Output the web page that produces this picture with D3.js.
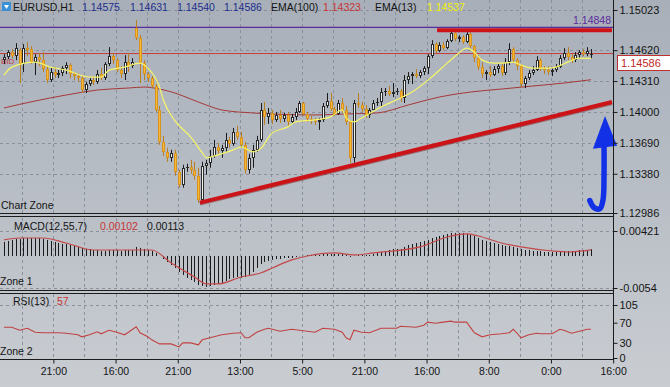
<!DOCTYPE html>
<html><head><meta charset="utf-8">
<script src="https://cdn.jsdelivr.net/npm/d3@7"></script>
<style>body{margin:0;overflow:hidden;background:#b8bdc4} svg{display:block} text{font-family:"Liberation Sans",Arial,sans-serif}</style>
</head><body><svg id="c" width="670" height="387"></svg>
<script>
// ---------------- DATA ----------------
const symbol = "EURUSD,H1";
const open = [1.1452,1.1455,1.1460,1.1456,1.1462,1.1448,1.1464,1.1463,1.1450,1.1455,
1.1452,1.1443,1.1432,1.1440,1.1437,1.1439,1.1444,1.1447,1.1438,1.1436,
1.1434,1.1422,1.1428,1.1432,1.1430,1.1438,1.1434,1.1448,1.1456,1.1452,
1.1442,1.1438,1.1450,1.1446,1.1484,1.1474,1.1449,1.1438,1.1434,1.1426,
1.1402,1.1370,1.1360,1.1354,1.1359,1.1340,1.1327,1.1344,1.1345,1.1342,
1.1336,1.1312,1.1346,1.1349,1.1356,1.1365,1.1361,1.1364,1.1372,1.1368,
1.1380,1.1375,1.1367,1.1342,1.1354,1.1362,1.1372,1.1402,1.1395,1.1399,
1.1392,1.1397,1.1393,1.1397,1.1390,1.1395,1.1400,1.1409,1.1398,1.1393,
1.1391,1.1390,1.1392,1.1406,1.1411,1.1403,1.1398,1.1409,1.1402,1.1390,
1.1354,1.1409,1.1407,1.1403,1.1397,1.1402,1.1409,1.1410,1.1420,1.1421,
1.1418,1.1420,1.1421,1.1414,1.1432,1.1436,1.1438,1.1436,1.1440,1.1444,
1.1456,1.1468,1.1461,1.1467,1.1464,1.1471,1.1479,1.1473,1.1475,1.1470,
1.1478,1.1466,1.1454,1.1445,1.1438,1.1440,1.1437,1.1443,1.1446,1.1439,
1.1450,1.1463,1.1452,1.1446,1.1428,1.1434,1.1439,1.1442,1.1452,1.1444,
1.1442,1.1440,1.1442,1.1445,1.1454,1.1459,1.1455,1.1452,1.1457,1.1460,
1.1458,1.14575];
const high = [1.1458,1.1462,1.1463,1.1469,1.1464,1.1468,1.1470,1.1466,1.1458,1.1459,
1.1460,1.1446,1.1444,1.1445,1.1442,1.1446,1.1450,1.1449,1.1440,1.1439,
1.1436,1.1430,1.1434,1.1435,1.1442,1.1444,1.1450,1.1465,1.1459,1.1454,
1.1446,1.1457,1.1459,1.1454,1.1492,1.1477,1.1452,1.1440,1.1436,1.1428,
1.1406,1.1376,1.1364,1.1362,1.1362,1.1342,1.1347,1.1348,1.1352,1.1350,
1.1344,1.1350,1.1352,1.1362,1.1372,1.1369,1.1367,1.1379,1.1375,1.1384,
1.1386,1.1380,1.1370,1.1358,1.1367,1.1376,1.1409,1.1410,1.1404,1.1402,
1.1400,1.1402,1.1399,1.1400,1.1398,1.1404,1.1411,1.1410,1.1400,1.1396,
1.1394,1.1394,1.1409,1.1419,1.1419,1.1405,1.1412,1.1414,1.1406,1.1392,
1.1412,1.1419,1.1410,1.1407,1.1404,1.1412,1.1414,1.1424,1.1424,1.1426,
1.1429,1.1424,1.1423,1.1437,1.1440,1.1440,1.1443,1.1442,1.1446,1.1458,
1.1472,1.1470,1.1470,1.1470,1.1473,1.1482,1.1480,1.1477,1.1477,1.1481,
1.1480,1.1467,1.1457,1.1450,1.1442,1.1446,1.1446,1.1448,1.1449,1.1454,
1.1469,1.1465,1.1454,1.1448,1.1436,1.1442,1.1446,1.1456,1.1454,1.1446,
1.1446,1.1444,1.1448,1.1457,1.1464,1.1465,1.1458,1.1460,1.1462,1.1463,
1.1465,1.14631];
const low = [1.1448,1.1453,1.1454,1.1452,1.1429,1.1440,1.1456,1.1448,1.1437,1.1446,
1.1440,1.1429,1.1430,1.1434,1.1434,1.1436,1.1438,1.1434,1.1432,1.1430,
1.1419,1.1419,1.1426,1.1427,1.1428,1.1432,1.1432,1.1446,1.1448,1.1440,
1.1434,1.1432,1.1440,1.1444,1.1472,1.1429,1.1432,1.1430,1.1424,1.1400,
1.1367,1.1356,1.1350,1.1350,1.1336,1.1324,1.1324,1.1340,1.1338,1.1332,
1.1309,1.1310,1.1337,1.1344,1.1354,1.1358,1.1354,1.1360,1.1364,1.1366,
1.1372,1.1364,1.1338,1.1338,1.1344,1.1360,1.1370,1.1387,1.1388,1.1388,
1.1390,1.1389,1.1390,1.1386,1.1388,1.1392,1.1399,1.1396,1.1390,1.1388,
1.1387,1.1382,1.1390,1.1404,1.1401,1.1396,1.1397,1.1400,1.1387,1.1349,
1.1349,1.1404,1.1400,1.1394,1.1394,1.1402,1.1406,1.1406,1.1416,1.1416,
1.1415,1.1417,1.1410,1.1409,1.1428,1.1428,1.1434,1.1434,1.1437,1.1438,
1.1454,1.1459,1.1460,1.1462,1.1463,1.1470,1.1471,1.1470,1.1468,1.1469,
1.1464,1.1450,1.1442,1.1434,1.1432,1.1435,1.1436,1.1439,1.1436,1.1437,
1.1447,1.1449,1.1442,1.1425,1.1424,1.1432,1.1437,1.1441,1.1441,1.1438,
1.1437,1.1436,1.1440,1.1444,1.1452,1.1452,1.1449,1.1450,1.1454,1.1456,
1.1456,1.14540];
const close = [1.1455,1.1460,1.1456,1.1464,1.1448,1.1464,1.1462,1.1450,1.1455,1.1452,
1.1443,1.1432,1.1440,1.1437,1.1439,1.1444,1.1447,1.1438,1.1436,1.1434,
1.1422,1.1428,1.1432,1.1430,1.1438,1.1434,1.1448,1.1456,1.1452,1.1442,
1.1438,1.1450,1.1446,1.1450,1.1474,1.1449,1.1438,1.1434,1.1426,1.1402,
1.1370,1.1360,1.1354,1.1359,1.1340,1.1327,1.1344,1.1345,1.1342,1.1336,
1.1312,1.1346,1.1349,1.1356,1.1365,1.1361,1.1364,1.1372,1.1368,1.1380,
1.1375,1.1367,1.1342,1.1354,1.1362,1.1372,1.1402,1.1395,1.1399,1.1392,
1.1397,1.1393,1.1397,1.1390,1.1395,1.1400,1.1409,1.1398,1.1393,1.1391,
1.1390,1.1392,1.1406,1.1411,1.1403,1.1398,1.1409,1.1402,1.1390,1.1354,
1.1409,1.1407,1.1403,1.1397,1.1402,1.1409,1.1410,1.1420,1.1421,1.1418,
1.1420,1.1421,1.1414,1.1432,1.1436,1.1438,1.1436,1.1440,1.1444,1.1456,
1.1468,1.1461,1.1467,1.1464,1.1471,1.1479,1.1473,1.1475,1.1470,1.1478,
1.1466,1.1454,1.1445,1.1438,1.1440,1.1437,1.1443,1.1446,1.1439,1.1450,
1.1463,1.1452,1.1446,1.1428,1.1434,1.1439,1.1442,1.1452,1.1444,1.1442,
1.1440,1.1442,1.1445,1.1454,1.1459,1.1455,1.1452,1.1457,1.1460,1.1458,
1.1461,1.14586];

const ema100Idx = [0,8,16,24,32,36,40,44,48,52,56,64,72,80,88,96,104,112,120,128,136,144,151];
const ema100Val = [1.1404,1.1411,1.1417,1.1422,1.1424,1.1425,1.1423,1.1419,1.1413,1.1407,1.1402,1.1399,1.13975,1.1397,1.1398,1.1399,1.1407,1.1415,1.1420,1.1423,1.1426,1.1429,1.14323];
const ema13Idx = [0,2,8,12,16,22,25,27,31,35,37,40,41,44,48,51,52,55,59,61,64,66,69,73,75,80,84,87,88,90,92,97,102,105,110,114,117,119,121,123,126,128,131,133,136,140,142,145,148,151];
const ema13Val = [1.1437,1.1445,1.1450,1.1445,1.1442,1.1435,1.1435,1.1442,1.1445,1.1449,1.1444,1.1425,1.1412,1.1391,1.1375,1.1359,1.1354,1.1357,1.1362,1.1365,1.1360,1.1363,1.1379,1.1385,1.1390,1.1392,1.1395,1.1402,1.1394,1.1390,1.1394,1.1405,1.1414,1.1420,1.1435,1.1449,1.1459,1.1464,1.1460,1.1452,1.1449,1.1449,1.1450,1.1447,1.1444,1.1444,1.1445,1.1450,1.1454,1.14537];

const macdHist = [0.00236,0.00253,0.00270,0.00287,0.00287,0.00303,0.00303,0.00303,0.00303,0.00303,
0.00287,0.00270,0.00253,0.00236,0.00219,0.00202,0.00202,0.00185,0.00169,0.00152,
0.00135,0.00118,0.00118,0.00101,0.00101,0.00084,0.00084,0.00101,0.00101,0.00101,
0.00084,0.00101,0.00101,0.00101,0.00152,0.00135,0.00118,0.00101,0.00084,0.00051,
0.00000,-0.00051,-0.00101,-0.00152,-0.00202,-0.00270,-0.00320,-0.00371,-0.00405,-0.00438,
-0.00489,-0.00506,-0.00523,-0.00506,-0.00489,-0.00472,-0.00455,-0.00422,-0.00388,-0.00371,
-0.00354,-0.00371,-0.00354,-0.00320,-0.00270,-0.00202,-0.00135,-0.00101,-0.00084,-0.00067,
-0.00051,-0.00051,-0.00034,-0.00034,-0.00034,-0.00017,-0.00005,0.00003,0.00017,0.00017,
0.00017,0.00017,0.00034,0.00034,0.00034,0.00034,0.00034,0.00034,0.00017,-0.00017,
0.00005,0.00017,0.00017,0.00017,0.00017,0.00034,0.00051,0.00067,0.00084,0.00101,
0.00118,0.00118,0.00118,0.00152,0.00185,0.00202,0.00219,0.00236,0.00253,0.00270,
0.00303,0.00320,0.00337,0.00354,0.00371,0.00388,0.00388,0.00388,0.00388,0.00371,
0.00354,0.00337,0.00303,0.00270,0.00253,0.00236,0.00219,0.00202,0.00185,0.00169,
0.00169,0.00152,0.00135,0.00118,0.00101,0.00101,0.00084,0.00084,0.00084,0.00067,
0.00067,0.00067,0.00067,0.00067,0.00084,0.00084,0.00084,0.00084,0.00101,0.00101,
0.00101,0.00113];
const macdSigIdx = [0,4,10,16,23,33,38,43,49,52,55,61,66,69,74,78,85,90,95,107,114,119,122,128,133,141,145,151];
const macdSigVal = [0.00270,0.00303,0.00303,0.00219,0.00101,0.00101,0.00101,-0.00118,-0.00354,-0.00472,-0.00472,-0.00354,-0.00287,-0.00202,-0.00067,0,0.00051,0.00017,0.00051,0.00152,0.00320,0.00371,0.00337,0.00219,0.00152,0.00084,0.00067,0.00102];

const rsiIdx = [0,2,4,6,8,10,14,16,19,20,22,24,25,27,29,31,32,34,35,37,38,40,43,45,46,48,50,51,53,56,59,61,62,63,65,67,68,71,74,76,80,82,85,87,88,89,90,92,94,97,101,102,106,108,109,111,113,115,116,119,121,123,125,128,130,131,132,133,135,137,138,141,143,144,146,148,150,151];
const rsiVal = [61,61,55,59,51,50,50,49,46,42,46,52,48,55,51,46,51,62,50,42,36,28,28,22,30,30,26,36,40,46,49,50,40,40,51,57,59,53,57,55,51,59,57,51,40,36,55,51,50,59,59,63,61,65,71,69,71,73,71,71,50,42,46,48,50,57,49,40,46,49,48,48,57,55,49,53,57,57];

const priceTicks = [1.15023,1.14620,1.14310,1.14000,1.13690,1.13380,1.12986];
const macdTicks = [0.00421,-0.0054];
const macdTickLabels = ["0.00421","-0.0054"];
const rsiTicks = [105,70,30,0];
const timeTickIdx = [12.7,28.7,44.7,60.7,76.7,92.7,108.7,124.7,140.7,156.7];
const timeLabels = ["21:00","16:00","21:00","13:00","5:00","21:00","16:00","8:00","0:00","16:00"];
const levelLine = 1.14848;      // purple horizontal line
const resistance = {from:111.4, to:156.4, price:1.1482};
const trend = [[50.4,1.1309],[156.4,1.1410]];
const arrowShaft = [[150.7,1.1311],[151.8,1.1304],[153.3,1.1303],[154.1,1.1312],[154.35,1.1337],[154.35,1.1366]];
const arrowHead = [[154.6,1.1396],[151.5,1.1363],[157.7,1.1366]];

// ---------------- LAYOUT ----------------
const W=670,H=387, RX=613;
const svg=d3.select('#c');
const defs=svg.append('defs');
const gr=defs.append('linearGradient').attr('id','bg').attr('x1',0).attr('y1',0).attr('x2',0).attr('y2',1);
gr.append('stop').attr('offset','0%').attr('stop-color','#a8afb9');
gr.append('stop').attr('offset','100%').attr('stop-color','#c9cdd2');
defs.append('clipPath').attr('id','cm').append('rect').attr('x',0).attr('y',0).attr('width',RX).attr('height',213);
svg.append('rect').attr('width',W).attr('height',H).attr('fill','url(#bg)');

const N=close.length;
const x=d3.scaleLinear().domain([0,N-1]).range([4,591]);
const yP=d3.scaleLinear().domain([1.12986,1.15023]).range([213,10]);
const yM=d3.scaleLinear().domain([-0.0054,0.00421]).range([288,231]);
const yR=d3.scaleLinear().domain([0,105]).range([358,305]);

// grid
const gridIdx=[]; timeTickIdx.forEach(t=>{[t-8,t].forEach(v=>{if(v<N) gridIdx.push(v);});});
const grid=svg.append('g').attr('stroke','#8a919b').attr('stroke-dasharray','3,3').attr('stroke-width',1).attr('fill','none');
[[0,213],[218,288],[294,358]].forEach(([a,b])=>{
  grid.selectAll(null).data(gridIdx).join('line')
   .attr('x1',d=>Math.round(x(d))+0.5).attr('x2',d=>Math.round(x(d))+0.5).attr('y1',a).attr('y2',b);
});
grid.selectAll(null).data(priceTicks.slice(0,-1)).join('line')
  .attr('x1',0).attr('x2',RX).attr('y1',d=>Math.round(yP(d))+0.5).attr('y2',d=>Math.round(yP(d))+0.5);
grid.selectAll(null).data(macdTicks).join('line')
  .attr('x1',0).attr('x2',RX).attr('y1',d=>Math.round(yM(d))+0.5).attr('y2',d=>Math.round(yM(d))+0.5);
grid.selectAll(null).data([105]).join('line')
  .attr('x1',0).attr('x2',RX).attr('y1',d=>Math.round(yR(d))+0.5).attr('y2',d=>Math.round(yR(d))+0.5);

// main panel
const main=svg.append('g').attr('clip-path','url(#cm)');
main.append('line').attr('x1',0).attr('x2',RX).attr('y1',yP(levelLine)).attr('y2',yP(levelLine)).attr('stroke','#5a2d9c').attr('stroke-width',1.2);
main.append('line').attr('x1',0).attr('x2',RX).attr('y1',yP(close[N-1])).attr('y2',yP(close[N-1])).attr('stroke','#c83c3c').attr('stroke-width',1);
main.append('text').attr('x',1).attr('y',yP(close[N-1])+10).attr('font-size',8).attr('fill','#c43a3a').text('BID');

const ema100Line=d3.line().x((d,i)=>x(ema100Idx[i])).y(d=>yP(d)).curve(d3.curveMonotoneX);
main.append('path').attr('d',ema100Line(ema100Val)).attr('fill','none').attr('stroke','#a63838').attr('stroke-width',1);

const cg=main.append('g');
cg.selectAll('g').data(d3.range(N)).join('g').each(function(i){
  const s=d3.select(this);
  const xc=Math.round(x(i));
  const up=close[i]>=open[i];
  const yt=Math.round(yP(Math.max(open[i],close[i]))), yb=Math.round(yP(Math.min(open[i],close[i])));
  const h=Math.max(1,yb-yt);
  s.append('line').attr('x1',xc+0.5).attr('x2',xc+0.5).attr('y1',yP(high[i])).attr('y2',yP(low[i]))
    .attr('stroke',up?'#1a1a1a':'#b97e1e').attr('stroke-width',1);
  s.append('rect').attr('x',xc-1).attr('y',yt).attr('width',3).attr('height',h).attr('fill',up?'#2a2a2a':'#d8931f');
  if(h>2) s.append('rect').attr('x',xc).attr('y',yt+1).attr('width',1).attr('height',h-2).attr('fill',up?'#f2f2f2':'#f8b836');
});

const ema13Line=d3.line().x((d,i)=>x(ema13Idx[i])).y(d=>yP(d)).curve(d3.curveMonotoneX);
main.append('path').attr('d',ema13Line(ema13Val)).attr('fill','none').attr('stroke','#f6f668').attr('stroke-width',1.2);

// annotations
const ann=svg.append('g');
ann.append('line').attr('x1',x(trend[0][0])).attr('y1',yP(trend[0][1])+1).attr('x2',x(trend[1][0])).attr('y2',yP(trend[1][1])+1)
  .attr('stroke','#6e1212').attr('stroke-opacity',0.45).attr('stroke-width',4);
ann.append('line').attr('x1',x(trend[0][0])).attr('y1',yP(trend[0][1])).attr('x2',x(trend[1][0])).attr('y2',yP(trend[1][1]))
  .attr('stroke','#cc1418').attr('stroke-width',4);
ann.append('line').attr('x1',x(resistance.from)).attr('x2',x(resistance.to)).attr('y1',yP(resistance.price)).attr('y2',yP(resistance.price))
  .attr('stroke','#cc1418').attr('stroke-width',4);
const shaft=d3.line().x(d=>x(d[0])).y(d=>yP(d[1])).curve(d3.curveCatmullRom);
ann.append('path').attr('d',shaft(arrowShaft)).attr('fill','none').attr('stroke','#1230e6').attr('stroke-width',5.5).attr('stroke-linecap','round');
ann.append('path').attr('d','M'+arrowHead.map(d=>x(d[0])+','+yP(d[1])).join('L')+'Z').attr('fill','#1230e6');

// MACD
const mg=svg.append('g');
mg.selectAll('line').data(macdHist).join('line')
  .attr('x1',(d,i)=>Math.round(x(i))+0.5).attr('x2',(d,i)=>Math.round(x(i))+0.5)
  .attr('y1',yM(0)).attr('y2',d=>yM(d)).attr('stroke','#1a1a1a').attr('stroke-width',1);
const sigLine=d3.line().x((d,i)=>x(macdSigIdx[i])).y(d=>yM(d)).curve(d3.curveMonotoneX);
mg.append('path').attr('d',sigLine(macdSigVal)).attr('fill','none').attr('stroke','#c44848').attr('stroke-width',1.2);

// RSI
const rsiLine=d3.line().x((d,i)=>x(rsiIdx[i])).y(d=>yR(d));
svg.append('path').attr('d',rsiLine(rsiVal)).attr('fill','none').attr('stroke','#c04242').attr('stroke-width',1.1);

// borders
const bd=svg.append('g').attr('stroke','#1c1c1c').attr('stroke-width',1);
[213.5,216.5,290.5,293.5,359.5].forEach(y=>bd.append('line').attr('x1',0).attr('x2',RX+0.5).attr('y1',y).attr('y2',y));
bd.append('line').attr('x1',RX+0.5).attr('x2',RX+0.5).attr('y1',0).attr('y2',360);

// right axes
function rightAxis(scale,vals,fmt){
  const a=svg.append('g').attr('transform',`translate(${RX+0.5},0)`)
    .call(d3.axisRight(scale).tickValues(vals).tickSize(4).tickPadding(2).tickFormat(fmt));
  a.select('.domain').remove();
  a.selectAll('line').attr('stroke','#1c1c1c');
  a.selectAll('text').attr('font-size',11).attr('fill','#141414').attr('font-family','"Liberation Sans",Arial,sans-serif');
  return a;
}
rightAxis(yP,priceTicks,d3.format('.5f'));
rightAxis(yM,macdTicks,(d,i)=>macdTickLabels[i]);
rightAxis(yR,rsiTicks,d=>d);

// time axis
const ta=svg.append('g').attr('transform','translate(0,359.5)')
  .call(d3.axisBottom(x).tickValues(timeTickIdx).tickSize(4).tickPadding(4).tickFormat((d,i)=>timeLabels[i]));
ta.select('.domain').remove();
ta.selectAll('line').attr('stroke','#1c1c1c');
ta.selectAll('text').attr('font-size',10.5).attr('fill','#141414').attr('font-family','"Liberation Sans",Arial,sans-serif');

// price labels at right
const f5=d3.format('.5f');
svg.append('rect').attr('x',617.5).attr('y',55.5).attr('width',53).attr('height',15).attr('fill','#ffffff').attr('stroke','#c03030');
svg.append('text').attr('x',621).attr('y',67).attr('font-size',11).attr('fill','#c02828').text(f5(close[N-1]));
svg.append('text').attr('x',611).attr('y',24).attr('text-anchor','end').attr('font-size',10.5).attr('fill','#5a2d9c').text(f5(levelLine));

// header
const hd=svg.append('g').attr('font-size',10.5);
hd.append('rect').attr('x',2).attr('y',2).attr('width',9).attr('height',9).attr('rx',1).attr('fill','#3a8fd9');
hd.append('path').attr('d','M4,5 L9,5 L6.5,9 Z').attr('fill','#ffffff');
const hItems=[[13,symbol,'#141414'],[82,f5(open[N-1]),'#1d2e8c'],[130,f5(high[N-1]),'#1d2e8c'],[177,f5(low[N-1]),'#1d2e8c'],[224,f5(close[N-1]),'#1d2e8c'],
  [271,'EMA(100)','#141414'],[323,f5(ema100Val[ema100Val.length-1]),'#c83434'],[375,'EMA(13)','#141414'],[427,f5(ema13Val[ema13Val.length-1]),'#f2f20a']];
hItems.forEach(([xx,t,c])=>hd.append('text').attr('x',xx).attr('y',10.5).attr('fill',c).text(t));

const mh=svg.append('g').attr('font-size',10.5);
mh.append('text').attr('x',14).attr('y',230).attr('fill','#141414').text('MACD(12,55,7)');
mh.append('text').attr('x',100).attr('y',230).attr('fill','#c83434').text(f5(macdSigVal[macdSigVal.length-1]));
mh.append('text').attr('x',147).attr('y',230).attr('fill','#141414').text(f5(macdHist[N-1]));
mh.append('text').attr('x',13).attr('y',305).attr('fill','#141414').text('RSI(13)');
mh.append('text').attr('x',57).attr('y',305).attr('fill','#c83434').text(rsiVal[rsiVal.length-1]);
mh.append('text').attr('x',1).attr('y',209).attr('fill','#141414').text('Chart Zone');
mh.append('text').attr('x',0).attr('y',285).attr('fill','#141414').text('Zone 1');
mh.append('text').attr('x',0).attr('y',355).attr('fill','#141414').text('Zone 2');
</script></body></html>
